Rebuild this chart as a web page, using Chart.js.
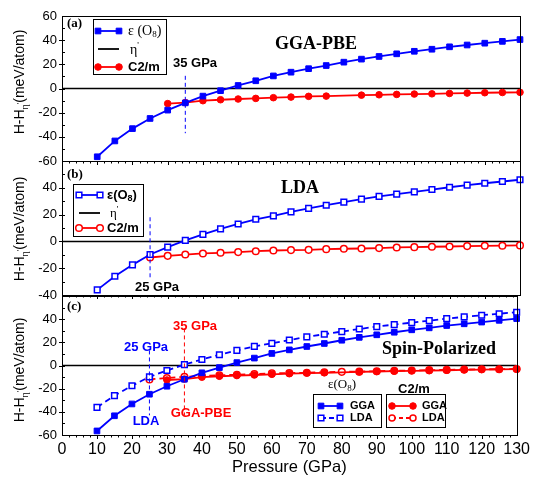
<!DOCTYPE html>
<html>
<head>
<meta charset="utf-8">
<script src="https://cdn.jsdelivr.net/npm/chart.js@4.4.0/dist/chart.umd.min.js"></script>
<style>
  html, body { margin: 0; padding: 0; background: #fff; }
  #wrap { position: relative; width: 535px; height: 477px; }
  canvas { position: absolute; left: 0; top: 0; }
</style>
</head>
<body>
<div id="wrap">
  <canvas id="panelA" width="535" height="477"></canvas>
  <canvas id="panelB" width="535" height="477"></canvas>
  <canvas id="panelC" width="535" height="477"></canvas>
</div>
<script>
// pressures (GPa) for the epsilon(O8) curves
const pressures = [10, 15, 20, 25, 30, 35, 40, 45, 50, 55, 60, 65, 70, 75, 80, 85, 90, 95, 100, 105, 110, 115, 120, 125, 130];
const ggaO8 = [-56.5, -43.4, -33.2, -24.8, -17.9, -11.9, -6.3, -1.8, 2.5, 6.4, 10.4, 13.5, 16.4, 19.0, 21.8, 24.3, 26.5, 28.7, 30.8, 32.5, 34.5, 36.0, 37.5, 39.0, 40.5];
const ldaO8 = [-36.2, -26.0, -17.5, -9.8, -4.3, 0.8, 5.2, 9.3, 13.0, 16.5, 19.1, 22.0, 24.7, 27.0, 29.3, 31.5, 33.6, 35.3, 37.0, 38.7, 40.4, 42.0, 43.4, 44.7, 46.0];
// C2/m
const ggaC2mP = [30, 35, 40, 45, 50, 55, 60, 65, 70, 75, 85, 90, 95, 100, 105, 110, 115, 120, 125, 130];
const ggaC2m = [-12.5, -11.7, -10.1, -9.3, -8.7, -8.2, -7.6, -7.1, -6.5, -6.3, -5.5, -5.2, -4.9, -4.6, -4.4, -4.1, -3.8, -3.5, -3.3, -3.2];
const ldaC2mP = [25, 30, 35, 40, 45, 50, 55, 60, 65, 70, 75, 80, 85, 90, 95, 100, 105, 110, 115, 120, 125, 130];
const ldaC2m = [-12.0, -10.8, -9.8, -9.0, -8.5, -8.0, -7.3, -6.8, -6.5, -6.3, -5.8, -5.5, -5.3, -5.0, -4.5, -4.3, -4.0, -3.8, -3.5, -3.3, -3.2, -3.0];
// eta' reference line
const etaP = [0, 130];
const etaH = [0, 0];

const SANS = '"Liberation Sans", Arial, sans-serif';
const SERIF = '"Liberation Serif", "Times New Roman", serif';
const BLUE = '#0000ff';
const RED = '#ff0000';

Chart.defaults.font.family = SANS;
Chart.defaults.color = '#000';

function xy(xs, ys) {
  return xs.map((x, i) => ({ x: x, y: ys[i] }));
}

function series(label, xs, ys, color, style, filled, dashed) {
  return {
    label: label,
    data: xy(xs, ys),
    borderColor: color,
    backgroundColor: filled ? color : '#fff',
    borderWidth: 1.8,
    borderDash: dashed ? [6, 4] : [],
    pointStyle: style,
    pointRadius: style === 'rect' ? 4 : 3.3,
    pointBorderWidth: filled ? 1 : 1.5,
    clip: 8,
    order: 1
  };
}

function etaLine() {
  return {
    label: "η'",
    data: xy(etaP, etaH),
    borderColor: '#000',
    borderWidth: 1.5,
    pointRadius: 0,
    order: 10
  };
}

// rich text: parts = [text, font, dy]
function rich(ctx, parts, x, y, align) {
  ctx.save();
  ctx.textBaseline = 'middle';
  ctx.textAlign = 'left';
  let total = 0;
  parts.forEach(p => { ctx.font = p[1]; total += ctx.measureText(p[0]).width; });
  let cx = align === 'center' ? x - total / 2 : x;
  parts.forEach(p => {
    ctx.font = p[1];
    ctx.fillText(p[0], cx, y + (p[2] || 0));
    cx += ctx.measureText(p[0]).width;
  });
  ctx.restore();
}

function legendSample(ctx, x1, x2, y, color, style, filled, dash, r) {
  ctx.save();
  ctx.strokeStyle = color;
  ctx.lineWidth = 1.8;
  ctx.setLineDash(dash || []);
  ctx.beginPath();
  ctx.moveTo(x1, y);
  ctx.lineTo(x2, y);
  ctx.stroke();
  ctx.setLineDash([]);
  if (style) {
    ctx.fillStyle = filled ? color : '#fff';
    ctx.lineWidth = filled ? 1 : 1.5;
    [x1, x2].forEach(px => Chart.helpers.drawPoint(ctx, { pointStyle: style, radius: r, borderWidth: 1, rotation: 0 }, px, y));
  }
  ctx.restore();
}

function vLine(chart, xv, y1, y2, color) {
  const ctx = chart.ctx;
  const px = chart.scales.x.getPixelForValue(xv);
  ctx.save();
  ctx.strokeStyle = color;
  ctx.lineWidth = 1;
  ctx.setLineDash([4, 3]);
  ctx.beginPath();
  ctx.moveTo(px, chart.scales.y.getPixelForValue(y1));
  ctx.lineTo(px, chart.scales.y.getPixelForValue(y2));
  ctx.stroke();
  ctx.restore();
}

function yTitle(ctx, x, cy) {
  ctx.save();
  ctx.translate(x, cy);
  ctx.rotate(-Math.PI / 2);
  ctx.fillStyle = '#000';
  rich(ctx, [
    ['H-H', '14px ' + SANS, 0],
    ['η', '10px ' + SERIF, 5],
    ["'", '8px ' + SERIF, 1],
    ['(meV/atom)', '14px ' + SANS, 0]
  ], 0, 0, 'center');
  ctx.restore();
}

function box(ctx, x1, y1, x2, y2) {
  ctx.save();
  ctx.strokeStyle = '#000';
  ctx.lineWidth = 1;
  ctx.strokeRect(x1 + 0.5, y1 + 0.5, x2 - x1, y2 - y1);
  ctx.restore();
}

// frame with small ticks + panel extras
function decor(extra) {
  return {
    id: 'decor',
    afterDatasetsDraw(chart) {
      const ctx = chart.ctx;
      const a = chart.chartArea;
      const xs = chart.scales.x, ys = chart.scales.y;
      ctx.save();
      ctx.strokeStyle = '#000';
      ctx.lineWidth = 1;
      ctx.strokeRect(Math.round(a.left) + 0.5, Math.round(a.top) + 0.5, Math.round(a.right - a.left), Math.round(a.bottom - a.top));
      ctx.beginPath();
      for (let v = 2; v < 130; v += 2) {
        const px = Math.round(xs.getPixelForValue(v)) + 0.5;
        const len = v % 10 === 0 ? 4 : 2.5;
        ctx.moveTo(px, a.bottom);
        ctx.lineTo(px, a.bottom + len);
      }
      for (let v = ys.min + 10; v < ys.max; v += 10) {
        const py = Math.round(ys.getPixelForValue(v)) + 0.5;
        if (v % 20 === 0) {
          ctx.moveTo(a.left - 3, py);
          ctx.lineTo(a.left + 3, py);
        } else {
          ctx.moveTo(a.left, py);
          ctx.lineTo(a.left + 3, py);
        }
      }
      ctx.stroke();
      ctx.restore();
      ctx.save();
      ctx.fillStyle = '#000';
      extra(chart, ctx);
      ctx.restore();
    }
  };
}

function options(top, bottom, yMin, showX) {
  return {
    responsive: false,
    animation: false,
    devicePixelRatio: 1,
    layout: { padding: { left: 0, right: 15, top: top, bottom: bottom } },
    plugins: { legend: { display: false }, tooltip: { enabled: false } },
    scales: {
      x: {
        type: 'linear', min: 0, max: 130, display: showX,
        grid: { display: false, drawTicks: false }, border: { display: false },
        ticks: { stepSize: 10, font: { size: 16 }, padding: 5, maxRotation: 0, autoSkip: false },
        title: { display: showX, text: 'Pressure (GPa)', font: { size: 16.5 }, padding: { top: 0, bottom: 0 } },
        afterFit: s => { if (showX) s.height = 42; }
      },
      y: {
        min: yMin, max: 60,
        grid: { display: false, drawTicks: false }, border: { display: false },
        ticks: {
          stepSize: 20, font: { size: 13 }, padding: 5, autoSkip: false,
          callback: v => (v === 60 && (yMin !== -60 || showX)) ? '' : v
        },
        afterFit: s => { s.width = 62; }
      }
    }
  };
}

// (a) GGA-PBE
new Chart(document.getElementById('panelA'), {
  type: 'line',
  data: {
    datasets: [
      series('ε (O8)', pressures, ggaO8, BLUE, 'rect', true, false),
      series('C2/m', ggaC2mP, ggaC2m, RED, 'circle', true, false),
      etaLine()
    ]
  },
  options: options(16, 316, -60, false),
  plugins: [decor((chart, ctx) => {
    vLine(chart, 35, 10.5, -37, BLUE);
    ctx.textAlign = 'center'; ctx.textBaseline = 'middle';
    ctx.font = 'bold 13px ' + SANS;
    ctx.fillText('35 GPa', 195, 63);
    ctx.font = 'bold 18px ' + SERIF;
    ctx.fillText('GGA-PBE', 316, 44);
    ctx.font = 'bold 13px ' + SERIF;
    ctx.textAlign = 'left';
    ctx.fillText('(a)', 67, 24);
    yTitle(ctx, 20, 82);
    box(ctx, 93, 19, 166, 74);
    legendSample(ctx, 98, 119, 31, BLUE, 'rect', true, null, 4);
    rich(ctx, [['ε (O', '14px ' + SERIF, 0], ['8', '9px ' + SERIF, 4], [')', '14px ' + SERIF, 0]], 128, 31);
    legendSample(ctx, 98, 119, 49, '#000', null);
    rich(ctx, [['η', '14px ' + SERIF, 1], ["'", '9px ' + SERIF, -3]], 130, 49);
    legendSample(ctx, 98, 119, 67, RED, 'circle', true, null, 3.3);
    rich(ctx, [['C2/m', 'bold 13px ' + SANS, 0]], 128, 67);
  })]
});

// (b) LDA
new Chart(document.getElementById('panelB'), {
  type: 'line',
  data: {
    datasets: [
      series('ε(O8)', pressures, ldaO8, BLUE, 'rect', false, false),
      series('C2/m', ldaC2mP, ldaC2m, RED, 'circle', false, false),
      etaLine()
    ]
  },
  options: options(161, 182, -40, false),
  plugins: [decor((chart, ctx) => {
    vLine(chart, 25, 18, -27.5, BLUE);
    ctx.textAlign = 'center'; ctx.textBaseline = 'middle';
    ctx.font = 'bold 13px ' + SANS;
    ctx.fillText('25 GPa', 157, 287);
    ctx.font = 'bold 18px ' + SERIF;
    ctx.fillText('LDA', 300, 188);
    ctx.font = 'bold 13px ' + SERIF;
    ctx.textAlign = 'left';
    ctx.fillText('(b)', 67, 175);
    yTitle(ctx, 20, 229);
    box(ctx, 73, 184, 143, 236);
    legendSample(ctx, 79, 100, 195, BLUE, 'rect', false, null, 4);
    rich(ctx, [['ε(O', 'bold 13px ' + SANS, 0], ['8', 'bold 9px ' + SANS, 4], [')', 'bold 13px ' + SANS, 0]], 107, 195);
    legendSample(ctx, 79, 100, 213, '#000', null);
    rich(ctx, [['η', '13px ' + SERIF, 1], ["'", '9px ' + SERIF, -3]], 110, 213);
    legendSample(ctx, 79, 100, 228, RED, 'circle', false, null, 3.3);
    rich(ctx, [['C2/m', 'bold 13px ' + SANS, 0]], 107, 228);
  })]
});

// (c) Spin-Polarized
new Chart(document.getElementById('panelC'), {
  type: 'line',
  data: {
    datasets: [
      series('GGA ε(O8)', pressures, ggaO8, BLUE, 'rect', true, false),
      series('LDA ε(O8)', pressures, ldaO8, BLUE, 'rect', false, true),
      series('GGA C2/m', ggaC2mP, ggaC2m, RED, 'circle', true, false),
      series('LDA C2/m', ldaC2mP, ldaC2m, RED, 'circle', false, true),
      etaLine()
    ]
  },
  options: options(296, 0, -60, true),
  plugins: [decor((chart, ctx) => {
    vLine(chart, 25, 13, -43, BLUE);
    vLine(chart, 35, 32, -43, RED);
    ctx.textAlign = 'center'; ctx.textBaseline = 'middle';
    ctx.font = 'bold 13px ' + SANS;
    ctx.fillStyle = BLUE;
    ctx.fillText('25 GPa', 146, 347);
    ctx.fillText('LDA', 146, 421);
    ctx.fillStyle = RED;
    ctx.fillText('35 GPa', 195, 326);
    ctx.fillText('GGA-PBE', 201, 413);
    ctx.fillStyle = '#000';
    ctx.font = 'bold 18px ' + SERIF;
    ctx.fillText('Spin-Polarized', 439, 349);
    ctx.font = 'bold 13px ' + SERIF;
    ctx.textAlign = 'left';
    ctx.fillText('(c)', 67, 307);
    yTitle(ctx, 20, 370);
    // epsilon(O8) legend
    rich(ctx, [['ε(O', '13px ' + SERIF, 0], ['8', '9px ' + SERIF, 4], [')', '13px ' + SERIF, 0]], 342, 385, 'center');
    box(ctx, 313, 394, 381, 427);
    legendSample(ctx, 321, 340, 406, BLUE, 'rect', true, null, 4);
    legendSample(ctx, 321, 340, 418, BLUE, 'rect', false, [5, 3], 4);
    ctx.font = 'bold 11px ' + SANS;
    ctx.fillStyle = '#000';
    ctx.textBaseline = 'middle';
    ctx.fillText('GGA', 350, 406);
    ctx.fillText('LDA', 350, 418);
    // C2/m legend
    rich(ctx, [['C2/m', 'bold 13px ' + SANS, 0]], 414, 389, 'center');
    box(ctx, 386, 394, 445, 427);
    legendSample(ctx, 392, 413, 406, RED, 'circle', true, null, 3.3);
    legendSample(ctx, 392, 413, 418, RED, 'circle', false, [4, 3], 3);
    ctx.font = 'bold 11px ' + SANS;
    ctx.fillStyle = '#000';
    ctx.fillText('GGA', 422, 406);
    ctx.fillText('LDA', 422, 418);
  })]
});
</script>
</body>
</html>
